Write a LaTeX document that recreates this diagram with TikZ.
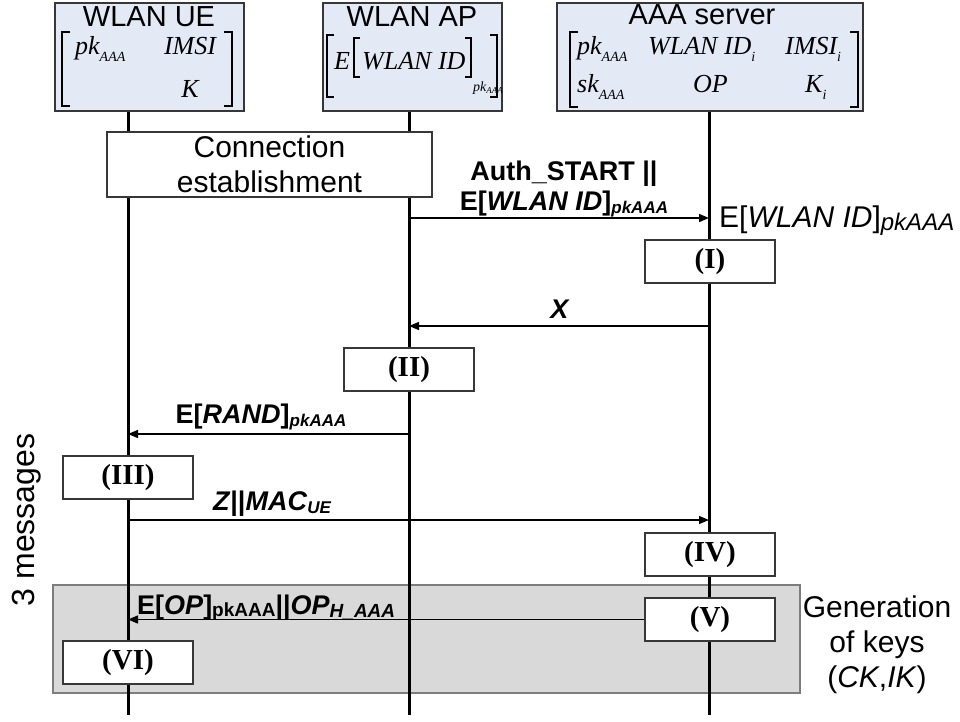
\documentclass[tikz,border=0pt]{standalone}
\usepackage{fontspec}
\setmainfont{Liberation Sans}
\newfontfamily\tms{Liberation Serif}
\usetikzlibrary{arrows.meta}
\definecolor{hdrfill}{RGB}{227,234,246}
\definecolor{framecol}{RGB}{55,55,55}
\definecolor{bandfill}{RGB}{217,217,217}
\definecolor{bandline}{RGB}{125,125,125}
\newcommand\fsz[1]{\fontsize{#1}{#1}\selectfont}
\newcommand\sublow[2]{\raisebox{-#1pt}{#2}}

\begin{document}
\begin{tikzpicture}[x=1pt,y=-1pt,
  life/.style={line width=3pt,black},
  msg/.style={line width=1.4pt,-{Triangle[length=10pt,width=8pt]}},
  header/.style={draw=framecol,fill=hdrfill,line width=1.5pt,inner sep=0pt},
  title/.style={anchor=base,inner sep=0pt,font=\fsz{29}},
  procbox/.style={draw=framecol,fill=white,line width=1.5pt,minimum width=130pt,
    minimum height=43pt,inner sep=0pt,font=\tms\bfseries\fsz{29}},
  lbl/.style={inner sep=0pt,font=\bfseries\fsz{27}},
  mtx/.style={inner sep=0pt,anchor=base west,font=\tms\itshape\fsz{26}},
  brk/.style={line width=1.1pt,black},
  plain/.style={inner sep=0pt,font=\fsz{30}}]

\useasboundingbox (0,0) rectangle (960,722);

% key-generation band
\fill[bandfill,draw=bandline,line width=1.2pt] (53,585) rectangle (800,693);

% entity headers
\node[header,minimum width=189pt,minimum height=108pt] (ueHead) at (149.5,57) {};
\node[header,minimum width=179pt,minimum height=108pt] (apHead) at (412.5,57) {};
\node[header,minimum width=306pt,minimum height=108pt] (aaaHead) at (710,57) {};

\node[title] (ueTitle) at (149,27) {WLAN UE};
\node[title] (apTitle) at (412,27) {WLAN AP};
\node[title] (aaaTitle) at (702,25) {AAA server};

% UE key matrix
\draw[brk] (70,32) -- (62,32) -- (62,106) -- (70,106);
\draw[brk] (224,32) -- (232,32) -- (232,106) -- (224,106);
\node[mtx] (uePk) at (75,55) {pk\sublow{7}{\fsz{14}AAA}};
\node[mtx,anchor=base] (ueImsi) at (190,55) {IMSI};
\node[mtx,anchor=base] (ueK) at (190,98) {K};

% AP stored identity
\draw[brk] (334,35) -- (327,35) -- (327,97) -- (334,97);
\draw[brk] (490,35) -- (497,35) -- (497,97) -- (490,97);
\node[mtx] (apE) at (334,70) {E};
\draw[brk] (360,38) -- (354,38) -- (354,77) -- (360,77);
\node[mtx] (apId) at (362,70) {WLAN ID};
\draw[brk] (465,38) -- (471,38) -- (471,77) -- (465,77);
\node[mtx] (apSub) at (473,92) {\fsz{14}pk\sublow{2}{\fsz{9}AAA}};

% AAA key matrix
\draw[brk] (578,32) -- (570,32) -- (570,107) -- (578,107);
\draw[brk] (850,32) -- (858,32) -- (858,107) -- (850,107);
\node[mtx] (aaaPk) at (577,55) {pk\sublow{7}{\fsz{14}AAA}};
\node[mtx] (aaaId) at (648,55) {WLAN ID\sublow{7}{\fsz{14}i}};
\node[mtx] (aaaImsi) at (785,55) {IMSI\sublow{7}{\fsz{14}i}};
\node[mtx] (aaaSk) at (577,93) {sk\sublow{7}{\fsz{14}AAA}};
\node[mtx] (aaaOp) at (693,93) {OP};
\node[mtx] (aaaK) at (805,93) {K\sublow{7}{\fsz{14}i}};

% lifelines
\coordinate (ueTop) at (128,112);  \coordinate (ueBot) at (128,715);
\coordinate (apTop) at (409,112);  \coordinate (apBot) at (409,715);
\coordinate (aaaTop) at (709,112); \coordinate (aaaBot) at (709,715);
\draw[life] (ueTop) -- (ueBot);
\draw[life] (apTop) -- (apBot);
\draw[life] (aaaTop) -- (aaaBot);

% processing steps
\node[draw=framecol,fill=white,line width=1.5pt,minimum width=325pt,minimum height=65pt,
  inner sep=0pt,align=center,font=\fontsize{30}{35}\selectfont] (conn) at (269.5,164.5)
  {Connection\\establishment};
\node[procbox] (stepI) at (710,261.5) {(I)};
\node[procbox] (stepII) at (409,369.5) {(II)};
\node[procbox] (stepIII) at (128,477.5) {(III)};
\node[procbox] (stepIV) at (710,554.5) {(IV)};
\node[procbox] (stepV) at (710,619.5) {(V)};
\node[procbox] (stepVI) at (128,662.5) {(VI)};

% message end points on the lifelines
\coordinate (apM1) at (409,218);  \coordinate (aaaM1) at (709,218);
\coordinate (aaaM2) at (709,326); \coordinate (apM2) at (409,326);
\coordinate (apM3) at (409,434);  \coordinate (ueM3) at (128,434);
\coordinate (ueM4) at (128,520);  \coordinate (aaaM4) at (709,520);
\coordinate (ueM5) at (128,619.5);

% messages
\draw[msg] (apM1) -- (aaaM1);
\draw[msg] (aaaM2) -- (apM2);
\draw[msg] (apM3) -- (ueM3);
\draw[msg] (ueM4) -- (aaaM4);
\draw[msg] (stepV.west) -- (ueM5);

% message labels
\node[lbl,anchor=base] (authA) at (564,181) {Auth\_START ||};
\node[lbl,anchor=base] (authB) at (564,210) {E[\textit{WLAN ID}]\sublow{3}{\fsz{17}\itshape pkAAA}};
\node[plain,anchor=base west] (recv) at (719,227) {E[\textit{WLAN ID}]\sublow{3}{\fsz{24}\itshape pkAAA}};
\node[lbl,anchor=base] (xLbl) at (560,318) {\textit{X}};
\node[lbl,anchor=base] (randLbl) at (261,423) {E[\textit{RAND}]\sublow{3}{\fsz{17}\itshape pkAAA}};
\node[lbl,anchor=base] (zLbl) at (272,510) {\textit{Z}||\textit{MAC}\sublow{3}{\fsz{17}\itshape UE}};
\node[lbl,anchor=base west] (opLbl) at (137,614) {E[\textit{OP}]\sublow{2}{\fsz{19}pkAAA}||\textit{OP}\sublow{3}{\fsz{19}\itshape H\_AAA}};

% side notes
\node[plain,anchor=base,rotate=90,font=\fsz{32}] (count) at (34,520) {3 messages};
\node[plain,anchor=base] (genA) at (877,617) {Generation};
\node[plain,anchor=base] (genB) at (877,652) {of keys};
\node[plain,anchor=base] (genC) at (877,687) {(\textit{CK},\textit{IK})};
\end{tikzpicture}
\end{document}
